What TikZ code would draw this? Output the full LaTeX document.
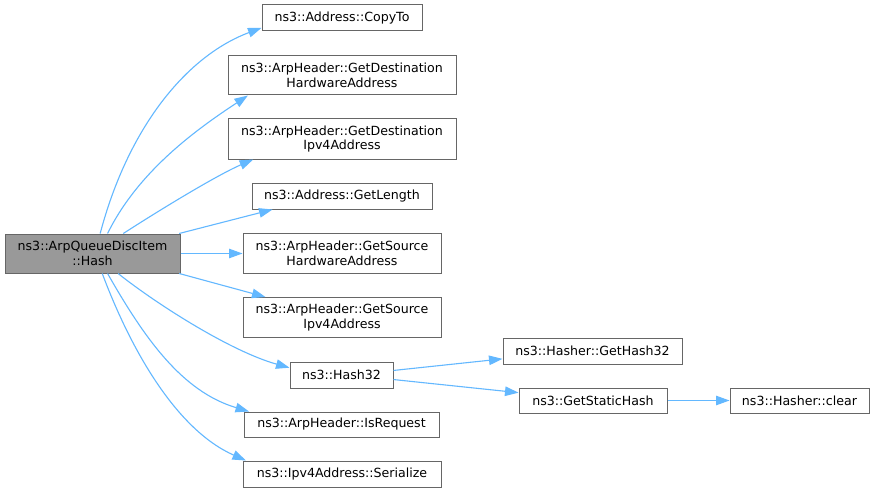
\documentclass[tikz,border=0pt]{standalone}
\usepackage{fontspec}
\setmainfont{DejaVu Sans}
\usetikzlibrary{arrows.meta}
\definecolor{edgeblue}{HTML}{63B8FF}
\definecolor{boxline}{HTML}{666666}
\definecolor{mainfill}{HTML}{999999}
\begin{document}
\begin{tikzpicture}[x=1pt,y=-1pt,
  box/.style={draw=boxline,line width=1pt,fill=white,rectangle,inner sep=0pt,align=center,
    font=\fontsize{12.6}{14.5}\selectfont},
  mainbox/.style={box,fill=mainfill},
  call/.style={draw=edgeblue,line width=1.1pt,-{Triangle[length=13.5pt,width=9.5pt]}}]
\useasboundingbox[fill=white] (0,0) rectangle (875,492);
\node[mainbox,minimum width=175pt,minimum height=39pt] (main) at (92.5,253.5) {ns3::ArpQueueDiscItem\\::Hash};
\node[box,minimum width=160pt,minimum height=26pt] (copyto) at (342,18) {ns3::Address::CopyTo};
\node[box,minimum width=228pt,minimum height=39pt] (dhw) at (342,75.5) {ns3::ArpHeader::GetDestination\\HardwareAddress};
\node[box,minimum width=228pt,minimum height=40pt] (dip) at (342,139) {ns3::ArpHeader::GetDestination\\Ipv4Address};
\node[box,minimum width=180pt,minimum height=26pt] (len) at (342,196) {ns3::Address::GetLength};
\node[box,minimum width=198pt,minimum height=40pt] (shw) at (342,253.5) {ns3::ArpHeader::GetSource\\HardwareAddress};
\node[box,minimum width=198pt,minimum height=40pt] (sip) at (342,317.5) {ns3::ArpHeader::GetSource\\Ipv4Address};
\node[box,minimum width=103pt,minimum height=26pt] (hash32) at (341.5,375) {ns3::Hash32};
\node[box,minimum width=195pt,minimum height=25pt] (isreq) at (341.5,424.5) {ns3::ArpHeader::IsRequest};
\node[box,minimum width=198pt,minimum height=26pt] (ser) at (342,474) {ns3::Ipv4Address::Serialize};
\node[box,minimum width=179pt,minimum height=26pt] (gh32) at (592.5,351) {ns3::Hasher::GetHash32};
\node[box,minimum width=148pt,minimum height=25pt] (gsh) at (593,400.5) {ns3::GetStaticHash};
\node[box,minimum width=139pt,minimum height=25pt] (clear) at (799.5,400.5) {ns3::Hasher::clear};

\draw[call] (main.69) .. controls +(28,-106) and +(-75,28) .. (copyto.187);
\draw[call] (main.53.4) .. controls +(31,-63) and +(-50,33) .. (dhw.192.4);
\draw[call] (main.33.5) .. controls +(34,-22) and +(-37,16) .. (dip.193.7);
\draw[call] (main.13) -- (len.191.8);
\draw[call] (main.east) -- (shw.west);
\draw[call] (main.-13.8) -- (sip.165.5);
\draw[call] (main.-38.5) .. controls +(39,31) and +(-58,-16) .. (hash32.172.3);
\draw[call] (main.-53.4) .. controls +(37,65) and +(-67,-20) .. (isreq.172);
\draw[call] (main.-64) .. controls +(30,80) and +(-68,-30) .. (ser.172.6);
\draw[call] (hash32.5.5) -- (gh32.185.7);
\draw[call] (hash32.-5.5) -- (gsh.174.2);
\draw[call] (gsh.east) -- (clear.west);
\end{tikzpicture}
\end{document}
